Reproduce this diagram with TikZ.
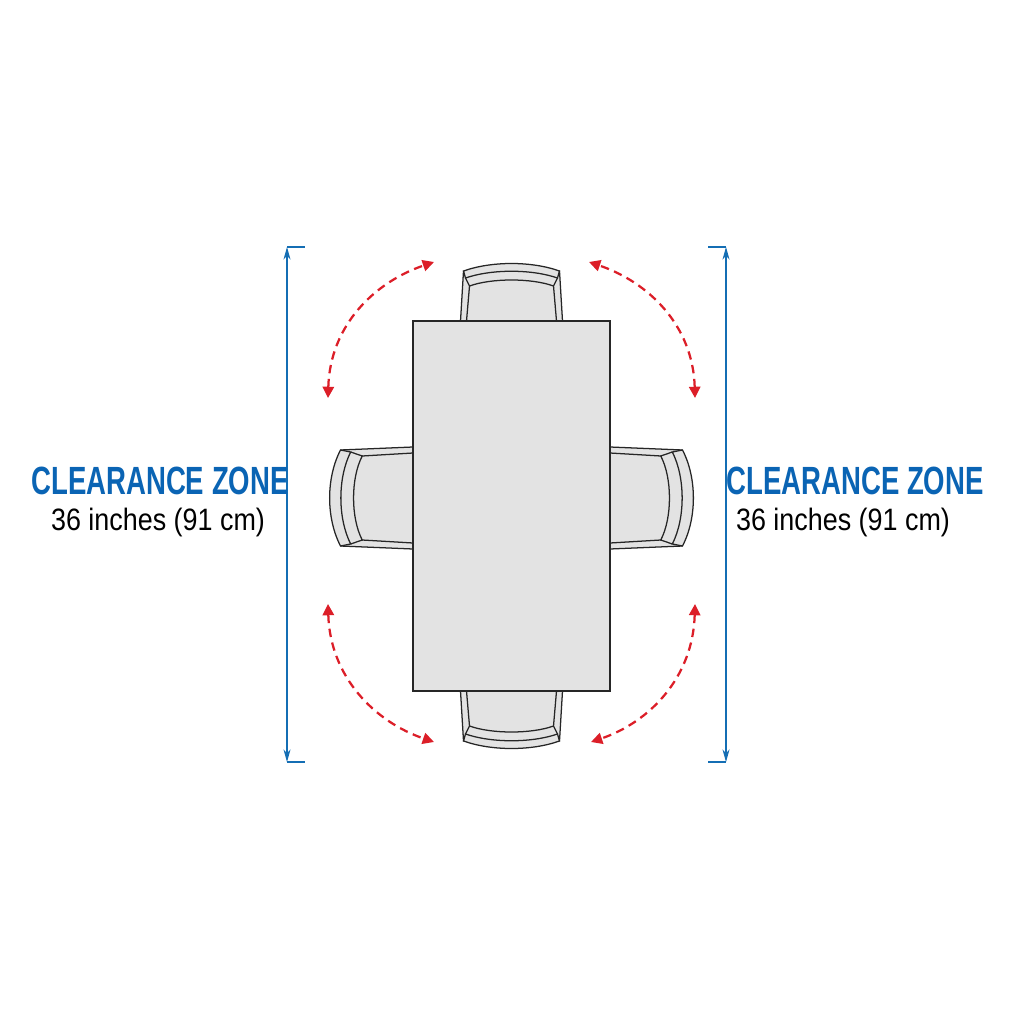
\documentclass[tikz,border=0pt]{standalone}
\usepackage{fontspec}
\setmainfont{Liberation Sans}
\usetikzlibrary{arrows.meta}
\definecolor{dimblue}{RGB}{20,110,180}
\definecolor{zoneblue}{RGB}{10,100,180}
\definecolor{arcred}{RGB}{220,30,40}
\tikzset{
  px/.style={x=0.25mm,y=-0.25mm},
  dimline/.style={draw=dimblue,line width=0.8pt},
  swing/.style={draw=arcred,line width=1.6pt,dash pattern=on 6pt off 4pt,{Triangle[length=8pt,width=8pt]}-{Triangle[length=8pt,width=8pt]}},
  furn/.style={draw=black!85,line width=0.9pt},
  chair/.pic={
    \fill[gray!22] (-48,-50) .. controls (-20,-60) and (20,-60) .. (48,-50) -- (51,0) -- (-51,0) -- cycle;
    \draw[furn] (-48,-50) .. controls (-20,-60) and (20,-60) .. (48,-50) -- (46,-43) .. controls (20,-52) and (-20,-52) .. (-46,-43) -- cycle;
    \draw[furn] (-46,-43) -- (-42,-35) .. controls (-20,-43) and (20,-43) .. (42,-35) -- (46,-43);
    \draw[furn] (-48,-50) -- (-51,0) (-42,-35) -- (-45,0);
    \draw[furn] (48,-50) -- (51,0) (42,-35) -- (45,0);
  }
}
\begin{document}
\begin{tikzpicture}[px]
\useasboundingbox[fill=white] (0,0) rectangle (1024,1024);
% chairs
\pic at (511.5,321) {chair};
\pic[rotate=180] at (511.5,691) {chair};
\pic[rotate=90,yscale=1.45] at (413,498) {chair};
\pic[rotate=-90,yscale=1.45] at (610,498) {chair};
% table
\node[furn,fill=gray!22,minimum width=197*0.25mm,minimum height=370*0.25mm,inner sep=0pt] (table) at (511.5,506) {};
% dimension lines
\coordinate (l1) at (287,247); \coordinate (l2) at (287,762);
\coordinate (r1) at (726,247); \coordinate (r2) at (726,762);
\draw[dimline,{Stealth[length=9pt,width=5pt]}-{Stealth[length=9pt,width=5pt]}] (l1) -- (l2);
\draw[dimline,{Stealth[length=9pt,width=5pt]}-{Stealth[length=9pt,width=5pt]}] (r1) -- (r2);
\draw[dimline] (287,247) -- (305,247) (287,762) -- (305,762);
\draw[dimline] (708,247) -- (726,247) (708,762) -- (726,762);
% swing arcs
\coordinate (a1) at (328,398); \coordinate (a2) at (434,262);
\coordinate (b1) at (695,398); \coordinate (b2) at (589,262);
\coordinate (c1) at (328,604); \coordinate (c2) at (434,742);
\coordinate (d1) at (695,604); \coordinate (d2) at (591,742);
\draw[swing] (a1) .. controls (330,325) and (375,282) .. (a2);
\draw[swing] (b1) .. controls (693,325) and (648,282) .. (b2);
\draw[swing] (c1) .. controls (330,677) and (375,722) .. (c2);
\draw[swing] (d1) .. controls (693,677) and (650,722) .. (d2);
% labels
\node[text=zoneblue,font=\bfseries\fontsize{28}{30}\selectfont] (zl) at (160,481) {\scalebox{0.7}[1]{CLEARANCE ZONE}};
\node[font=\fontsize{22}{24}\selectfont] (dl) at (158,522) {\scalebox{0.87}[1]{36 inches (91 cm)}};
\node[text=zoneblue,font=\bfseries\fontsize{28}{30}\selectfont] (zr) at (855,481) {\scalebox{0.7}[1]{CLEARANCE ZONE}};
\node[font=\fontsize{22}{24}\selectfont] (dr) at (843,522) {\scalebox{0.87}[1]{36 inches (91 cm)}};
\end{tikzpicture}
\end{document}
